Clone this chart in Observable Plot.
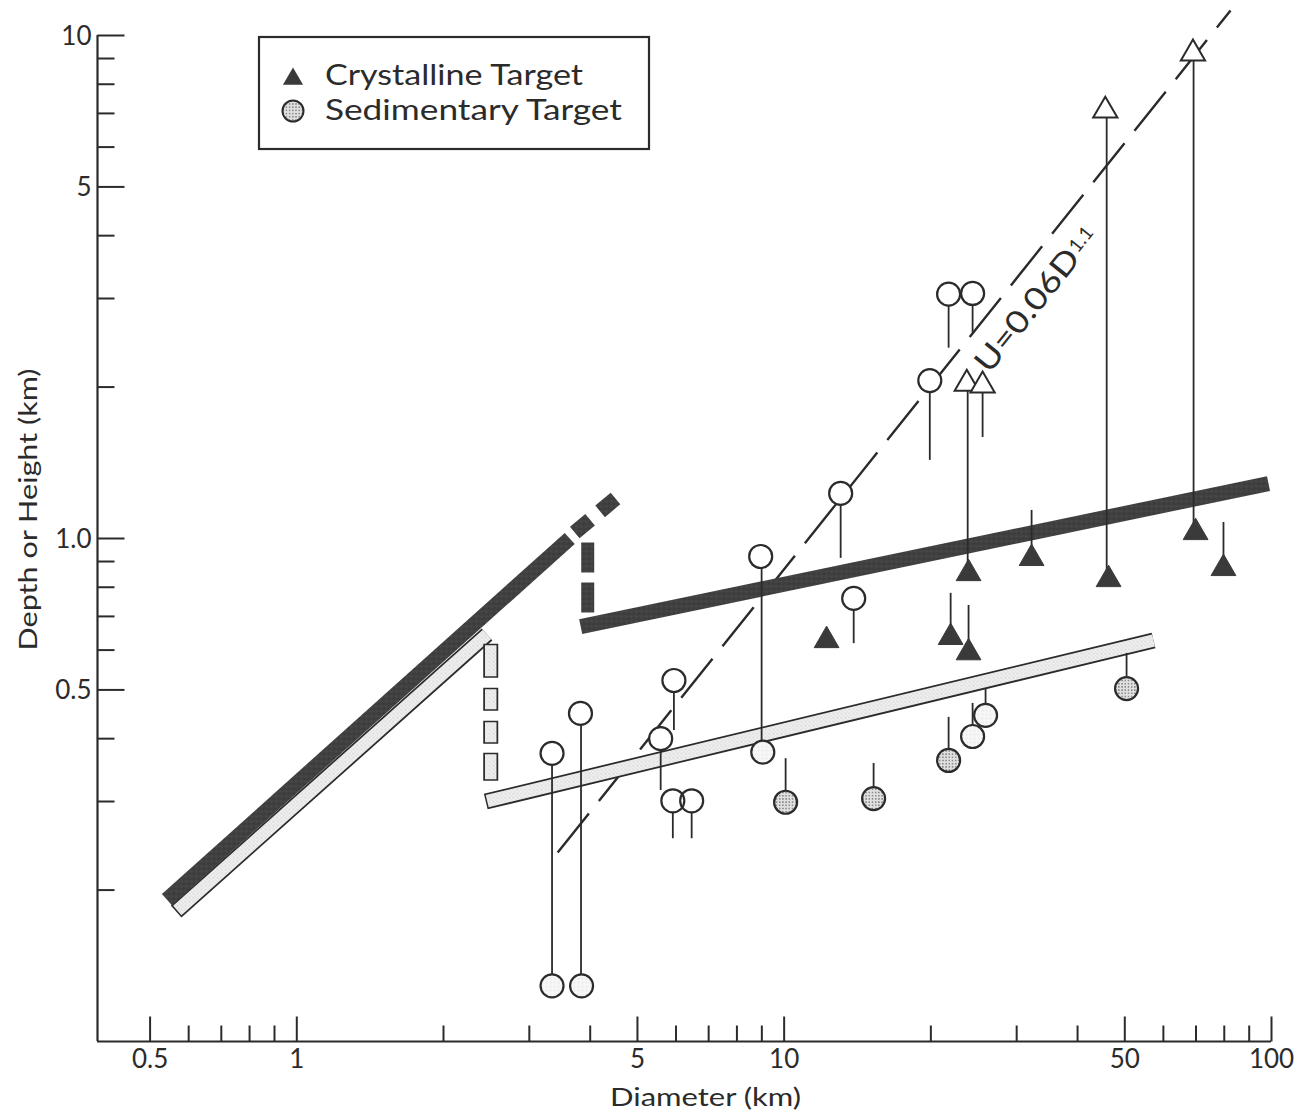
<!DOCTYPE html>
<html>
<head>
<meta charset="utf-8">
<script src="https://cdn.jsdelivr.net/npm/d3@7"></script>
<script src="https://cdn.jsdelivr.net/npm/@observablehq/plot@0.6"></script>
<style>
  html, body { margin: 0; padding: 0; background: #fff; }
  #chart { width: 1309px; height: 1115px; }
</style>
</head>
<body>
<div id="chart"></div>
<script>
// ---------------- Data ----------------
// axis ticks
const xMajor = [0.5, 1, 5, 10, 50, 100];
const xMajorLabels = ["0.5", "1", "5", "10", "50", "100"];
const xMinor = [0.6, 0.7, 0.8, 0.9, 2, 3, 4, 6, 7, 8, 9, 20, 30, 40, 60, 70, 80, 90];
const yMajor = [0.5, 1, 5, 10];
const yMajorLabels = ["0.5", "1.0", "5", "10"];
const yMinor = [0.2, 0.3, 0.4, 0.6, 0.7, 0.8, 0.9, 2, 3, 4, 6, 7, 8, 9];

// [diameter km, depth or height km]
const upliftSed = [ // open circles
  [3.34, 0.374], [3.82, 0.449], [5.58, 0.400], [5.94, 0.522], [5.91, 0.301], [6.46, 0.301],
  [8.95, 0.921], [13.06, 1.229], [13.89, 0.760], [19.9, 2.06], [21.75, 3.06], [24.36, 3.07]
];
const sedDepthLight = [ // faintly stippled circles
  [3.34, 0.129], [3.84, 0.129], [9.04, 0.376], [24.36, 0.404], [25.9, 0.445]
];
const sedDepth = [ // stippled circles (Sedimentary Target)
  [10.07, 0.299], [15.26, 0.304], [21.75, 0.362], [50.42, 0.503]
];
const crystDepth = [ // filled triangles (Crystalline Target)
  [12.22, 0.627], [21.96, 0.636], [23.9, 0.593], [23.9, 0.852], [32.19, 0.913],
  [46.31, 0.829], [69.86, 1.028], [79.7, 0.872]
];
const crystUplift = [ // open triangles
  [23.7, 2.03], [25.54, 2.015], [45.6, 7.09], [69.0, 9.21]
];
// vertical stems: [diameter, from, to]
const stems = [
  [3.34, 0.374, 0.129], [3.83, 0.449, 0.129], [5.58, 0.400, 0.3155], [5.94, 0.522, 0.415],
  [5.91, 0.301, 0.253], [6.46, 0.301, 0.253], [8.99, 0.921, 0.376], [13.06, 1.229, 0.913],
  [13.89, 0.760, 0.618], [19.9, 2.06, 1.43], [21.75, 3.06, 2.39], [24.36, 3.07, 2.56],
  [24.36, 0.404, 0.470], [25.9, 0.445, 0.503], [10.07, 0.299, 0.365], [15.26, 0.304, 0.357],
  [21.75, 0.362, 0.441], [50.42, 0.503, 0.591], [23.8, 2.03, 0.852], [32.19, 0.913, 1.137],
  [45.9, 7.09, 0.829], [69.2, 9.21, 1.028], [79.7, 0.872, 1.076], [21.96, 0.636, 0.778],
  [23.9, 0.593, 0.736], [25.54, 2.015, 1.588]
];
// trend bands: [diameter, value] end points
const bandCrystSimple = [[0.5414, 0.1915], [3.631, 1.0]];
const bandCrystSimpleExt = [[3.718, 1.028], [4.533, 1.206]];
const bandCrystGap = [[3.953, 0.982], [3.953, 0.713]];
const bandCrystComplex = [[3.824, 0.668], [98.6, 1.286]];
const bandSedSimple = [[0.5655, 0.1813], [2.457, 0.6446]];
const bandSedGap = [[2.50, 0.618], [2.50, 0.330]];
const bandSedComplex = [[2.442, 0.300], [57.28, 0.627]];
const uLine = [[3.43, 0.2375], [82.4, 11.21]];
const uLabel = [{text: "U=0.06D", x: 31.6, y: 2.84}];
const uExponent = [{text: "1.1", x: 40.7, y: 3.93}];
const legendItems = ["Crystalline Target", "Sedimentary Target"];
const xTitle = "Diameter (km)";
const yTitle = "Depth or Height (km)";

// ---------------- Styling ----------------
const ink = "#2b2b2b";
const FONT = "Lato, 'Open Sans', sans-serif";
const X_DOMAIN = [0.39, 100];
const Y_DOMAIN = [0.1, 10];
const px = d => d[0], py = d => d[1];
const tickShape = {draw(ctx, l) { ctx.moveTo(0, 0); ctx.lineTo(0, -l); }};
const circlesAll = [
  ...upliftSed.map(d => ({d, f: "white"})),
  ...sedDepthLight.map(d => ({d, f: "url(#sedLight)"})),
  ...sedDepth.map(d => ({d, f: "url(#sedDot)"}))
];

const chart = Plot.plot({
  width: 1309, height: 1115,
  marginLeft: 97, marginRight: 38, marginTop: 35, marginBottom: 74,
  x: {type: "log", domain: X_DOMAIN, axis: null},
  y: {type: "log", domain: Y_DOMAIN, axis: null},
  style: {fontFamily: FONT, color: ink, background: "#fff", overflow: "visible"},
  marks: [
    // dashed U line
    Plot.line(uLine, {x: px, y: py, stroke: ink, strokeWidth: 2.4, strokeDasharray: "50,16", strokeLinecap: "butt"}),
    // sedimentary (light) bands: outline + stipple
    Plot.line(bandSedSimple, {x: px, y: py, stroke: ink, strokeWidth: 16, strokeLinecap: "butt"}),
    Plot.line(bandSedSimple, {x: px, y: py, stroke: "url(#bandLight)", strokeWidth: 12.5, strokeLinecap: "butt", strokeDasharray: "0,1.5,5000"}),
    Plot.line(bandSedComplex, {x: px, y: py, stroke: ink, strokeWidth: 16, strokeLinecap: "butt"}),
    Plot.line(bandSedComplex, {x: px, y: py, stroke: "url(#bandLight)", strokeWidth: 12.5, strokeLinecap: "butt", strokeDasharray: "0,1.5,5000"}),
    Plot.line(bandSedGap, {x: px, y: py, stroke: ink, strokeWidth: 15, strokeLinecap: "butt", strokeDasharray: "34,10,23,10,23,9,28,200"}),
    Plot.line(bandSedGap, {x: px, y: py, stroke: "url(#bandLight)", strokeWidth: 11.5, strokeLinecap: "butt", strokeDasharray: "0,1.5,31,13,20,13,20,12,25,200"}),
    // crystalline (dark) bands
    Plot.line(bandCrystSimple, {x: px, y: py, stroke: "url(#bandDark)", strokeWidth: 15, strokeLinecap: "butt"}),
    Plot.line(bandCrystSimpleExt, {x: px, y: py, stroke: "url(#bandDark)", strokeWidth: 15, strokeLinecap: "butt", strokeDasharray: "20,13,20,200"}),
    Plot.line(bandCrystGap, {x: px, y: py, stroke: "url(#bandDark)", strokeWidth: 13, strokeLinecap: "butt", strokeDasharray: "30,10,30,200"}),
    Plot.line(bandCrystComplex, {x: px, y: py, stroke: "url(#bandDark)", strokeWidth: 15, strokeLinecap: "butt"}),
    // stems
    Plot.ruleX(stems, {x: d => d[0], y1: d => d[1], y2: d => d[2], stroke: ink, strokeWidth: 1.8}),
    // circles: fill pass then outline pass
    Plot.dot(circlesAll, {x: c => c.d[0], y: c => c.d[1], r: 11.5, fill: c => c.f, stroke: "none"}),
    Plot.dot(circlesAll, {x: c => c.d[0], y: c => c.d[1], r: 11.5, fill: "none", stroke: ink, strokeWidth: 2.2}),
    // triangles
    Plot.dot(crystUplift, {x: px, y: py, symbol: "triangle", r: 9, fill: "white", stroke: ink, strokeWidth: 2}),
    Plot.dot(crystDepth, {x: px, y: py, symbol: "triangle", r: 9.2, fill: "#3a3a3a", stroke: "#3a3a3a", strokeWidth: 1}),
    // label of the dashed line
    Plot.text(uLabel, {x: "x", y: "y", text: "text", rotate: -51.3, fontSize: 31, fill: ink}),
    Plot.text(uExponent, {x: "x", y: "y", text: "text", rotate: -51.3, fontSize: 19, fill: ink}),
    // axes lines
    Plot.ruleX([X_DOMAIN[0]], {stroke: ink, strokeWidth: 2.2}),
    Plot.ruleY([Y_DOMAIN[0]], {stroke: ink, strokeWidth: 2.2}),
    // inward ticks
    Plot.vector(xMajor, {x: d => d, y: Y_DOMAIN[0], length: 25, rotate: 0, anchor: "start", shape: tickShape, stroke: ink, strokeWidth: 2, strokeLinecap: "butt"}),
    Plot.vector(xMinor, {x: d => d, y: Y_DOMAIN[0], length: 16, rotate: 0, anchor: "start", shape: tickShape, stroke: ink, strokeWidth: 2, strokeLinecap: "butt"}),
    Plot.vector(yMajor, {x: X_DOMAIN[0], y: d => d, length: 27, rotate: 90, anchor: "start", shape: tickShape, stroke: ink, strokeWidth: 2, strokeLinecap: "butt"}),
    Plot.vector(yMinor, {x: X_DOMAIN[0], y: d => d, length: 17, rotate: 90, anchor: "start", shape: tickShape, stroke: ink, strokeWidth: 2, strokeLinecap: "butt"}),
    // tick labels
    Plot.text(xMajor, {x: d => d, y: Y_DOMAIN[0], text: (d, i) => xMajorLabels[i], dy: 18, fontSize: 26, fill: ink, textAnchor: "middle"}),
    Plot.text(yMajor, {x: X_DOMAIN[0], y: d => d, text: (d, i) => yMajorLabels[i], dx: -6, dy: 1, fontSize: 26, fill: ink, textAnchor: "end"}),
    // axis titles
    Plot.text([xTitle], {frameAnchor: "bottom", dx: 21, dy: 56, fontSize: 25, fill: ink, textAnchor: "middle", lineAnchor: "middle"}),
    Plot.text([yTitle], {frameAnchor: "left", dx: -69, dy: -29, rotate: -90, fontSize: 25, fill: ink, textAnchor: "middle", lineAnchor: "middle"})
  ]
});

// stretch a few labels to the widths seen in the reference
const stretch = {[xTitle]: 191, [yTitle]: 282, "U=0.06D": 148};
d3.select(chart).selectAll("text").each(function () {
  const t = this.textContent;
  if (stretch[t]) d3.select(this).attr("textLength", stretch[t]).attr("lengthAdjust", "spacingAndGlyphs");
});

// patterns
const defs = d3.select(chart).insert("defs", ":first-child");
function pattern(id, size, bg, dots) {
  const p = defs.append("pattern").attr("id", id).attr("patternUnits", "userSpaceOnUse")
    .attr("width", size).attr("height", size);
  p.append("rect").attr("width", size).attr("height", size).attr("fill", bg);
  for (const [cx, cy, r, c] of dots) p.append("circle").attr("cx", cx).attr("cy", cy).attr("r", r).attr("fill", c);
}
pattern("bandDark", 5, "#3f3f3f", [[1, 1, 0.7, "#5e5e5e"], [3.5, 3, 0.6, "#2c2c2c"], [4, 0.8, 0.5, "#555"]]);
pattern("bandLight", 4, "#f1f1f1", [[1, 1, 0.55, "#9a9a9a"], [3, 3, 0.55, "#b8b8b8"]]);
pattern("sedDot", 3.2, "#e0e0e0", [[1.6, 1.6, 0.75, "#6a6a6a"]]);
pattern("sedLight", 4, "#f7f7f7", [[2, 2, 0.55, "#c4c4c4"]]);

// legend box (inside plot area, top-left)
const lg = d3.select(chart).append("g").attr("font-family", FONT).attr("fill", ink).attr("text-anchor", "start");
lg.append("rect").attr("x", 259).attr("y", 37).attr("width", 390).attr("height", 112)
  .attr("fill", "#fff").attr("stroke", ink).attr("stroke-width", 2.2);
lg.append("path").attr("d", d3.symbol(d3.symbolTriangle, 175)()).attr("transform", "translate(293,79)")
  .attr("fill", "#3a3a3a");
lg.append("circle").attr("cx", 293).attr("cy", 111).attr("r", 10.5)
  .attr("fill", "url(#sedDot)").attr("stroke", ink).attr("stroke-width", 2);
lg.append("text").attr("x", 325).attr("y", 85).attr("font-size", 28)
  .attr("textLength", 258).attr("lengthAdjust", "spacingAndGlyphs").text(legendItems[0]);
lg.append("text").attr("x", 325).attr("y", 120).attr("font-size", 28)
  .attr("textLength", 297).attr("lengthAdjust", "spacingAndGlyphs").text(legendItems[1]);

document.getElementById("chart").appendChild(chart);
</script>
</body>
</html>
